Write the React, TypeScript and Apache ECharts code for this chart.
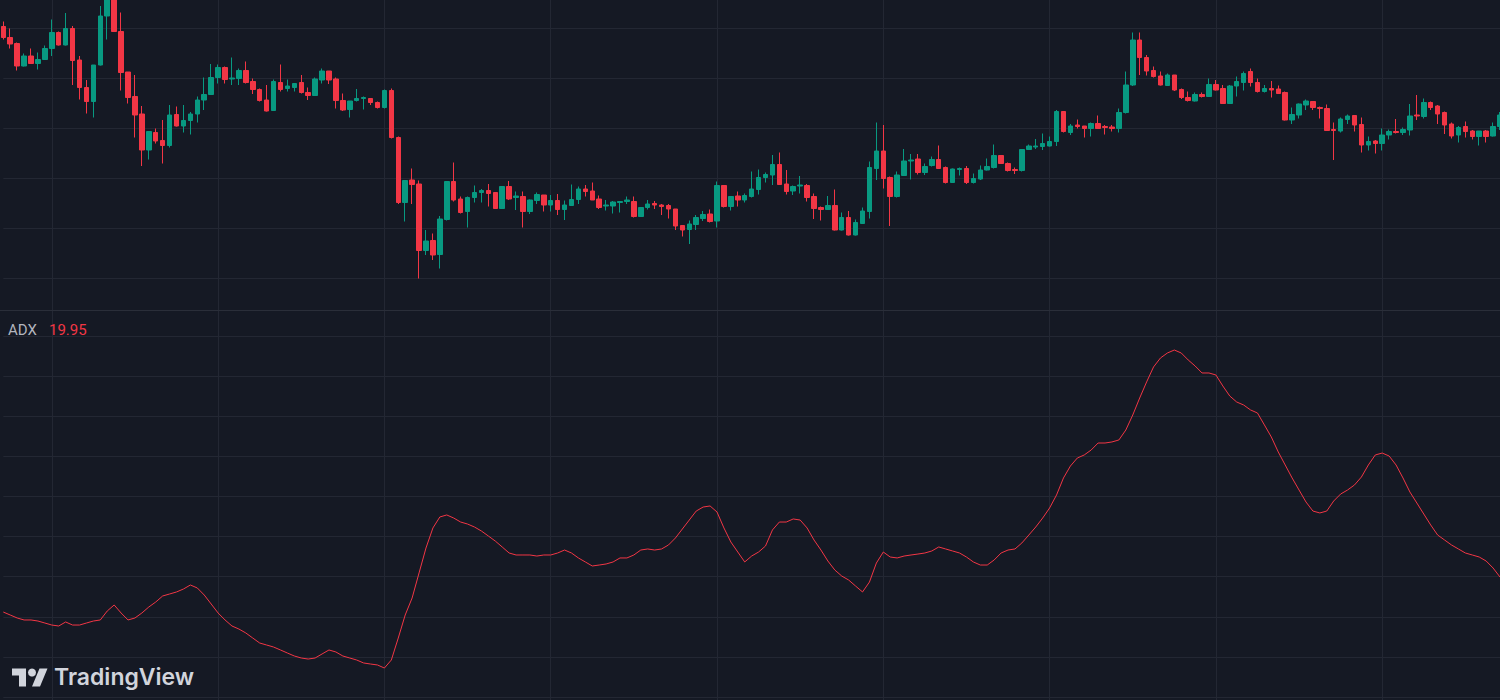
import React, { useEffect, useRef } from "react";
import * as echarts from "echarts";

// ---- Price pane (candles) ----
const OPEN = [
  150.3, 148.1, 146.9, 142.4, 144.4, 142.9, 143.7, 145.9, 149.1, 146.6,
  149.9, 143.6, 138.1, 135.3, 142.6, 152.4, 156.2, 149.3, 141.2, 136.3,
  132.8, 125.6, 129.1, 127.5, 126.5, 132.7, 130.4, 131.5, 132.8, 135.6,
  136.7, 140.1, 142.1, 139.8, 139.9, 141.5, 139.3, 137.7, 135.6, 133.5,
  139.1, 137.9, 138.1, 139.1, 137.1, 136.5, 139.6, 141.4, 139.8, 135.5,
  133.7, 135.5, 135.9, 135.9, 135.1, 134.1, 137.5, 128.1, 115.1, 119.6,
  118.8, 105.5, 107.5, 104.7, 111.7, 119.3, 115.8, 113.3, 116.1, 117.1,
  117.5, 117.1, 113.9, 118.3, 116.1, 116.3, 113.3, 115.5, 116.6, 114.6,
  115.5, 113.7, 114.5, 115.7, 117.8, 117.4, 115.8, 114.4, 114.4, 115.1,
  115.3, 115.3, 112.3, 114.1, 114.9, 114.6, 114.5, 113.8, 110.5, 109.7,
  110.7, 111.9, 112.8, 111.4, 118.5, 114.3, 116.4, 115.6, 116.3, 117.7,
  120.1, 120.6, 122.7, 118.8, 117.4, 118.4, 118.5, 116.3, 114.1, 113.7,
  114.5, 109.6, 112.1, 108.6, 110.9, 113.3, 121.9, 125.4, 120.1, 116.3,
  120.5, 123.4, 123.8, 121.1, 122.5, 123.7, 122.1, 119.1, 121.7, 121.9,
  119.1, 119.8, 121.6, 122.1, 124.5, 122.9, 121.7, 121.5, 125.7, 126.2,
  126.3, 126.4, 127.3, 133.3, 129.1, 130.6, 130.4, 129.9, 130.9, 130.3,
  130.2, 129.9, 133.1, 138.6, 147.6, 144.1, 141.5, 140.4, 138.5, 140.6,
  137.7, 136.1, 135.4, 136.7, 136.3, 138.7, 137.9, 134.9, 138.4, 139.1,
  141.3, 139.1, 137.3, 137.9, 137.8, 137.1, 131.6, 132.6, 134.6, 135.3,
  134.1, 133.9, 129.7, 129.4, 131.7, 132.5, 130.7, 126.6, 127.4, 126.9,
  128.6, 129.3, 129.1, 129.6, 132.6, 132.3, 135.1, 134.4, 133.1, 130.8,
  128.6, 130.3, 129.4, 128.3, 129.4, 128.4, 130.3,
];
const CLOSE = [
  148.1, 146.8, 142.4, 144.4, 142.9, 143.7, 145.9, 149.1, 146.6, 149.9,
  143.5, 138.1, 135.3, 142.6, 152.4, 156.2, 149.3, 141.1, 136.1, 132.6,
  125.6, 129.3, 127.4, 126.5, 132.6, 130.4, 131.5, 132.8, 135.6, 136.7,
  140.1, 142.1, 139.7, 140.0, 141.5, 139.1, 137.7, 135.5, 133.4, 139.3,
  137.7, 138.4, 138.9, 137.1, 136.5, 139.8, 141.4, 139.6, 135.5, 133.6,
  135.4, 135.9, 136.1, 135.1, 134.1, 137.5, 128.1, 115.1, 119.5, 118.7,
  105.5, 107.4, 104.6, 111.8, 119.3, 115.6, 113.1, 116.1, 117.1, 117.5,
  116.9, 113.9, 118.3, 115.8, 116.4, 113.3, 115.6, 116.7, 114.6, 115.5,
  113.7, 114.6, 115.7, 117.8, 117.3, 115.6, 114.1, 114.6, 115.2, 115.3,
  115.6, 112.3, 114.1, 114.8, 114.6, 114.3, 113.8, 110.4, 109.6, 110.8,
  112.1, 112.7, 111.3, 118.5, 114.3, 116.3, 115.6, 116.5, 117.8, 120.1,
  120.7, 122.7, 118.7, 117.3, 118.3, 118.6, 116.1, 113.9, 113.7, 114.5,
  109.6, 112.1, 108.6, 111.1, 113.4, 122.1, 125.4, 119.9, 116.3, 120.6,
  123.4, 123.6, 121.1, 122.3, 123.7, 121.9, 119.1, 121.8, 121.9, 119.1,
  119.9, 121.6, 122.3, 124.5, 122.9, 121.5, 121.5, 125.7, 126.4, 126.4,
  126.9, 127.3, 133.3, 129.3, 130.4, 130.3, 129.9, 130.9, 129.9, 130.1,
  129.9, 133.1, 138.6, 147.6, 144.1, 141.4, 140.3, 138.6, 140.6, 137.6,
  136.1, 135.5, 136.7, 136.3, 138.7, 137.6, 134.9, 138.4, 139.3, 140.9,
  139.1, 137.3, 137.9, 137.6, 136.9, 131.6, 132.7, 134.8, 135.4, 134.1,
  133.9, 129.5, 129.5, 131.8, 132.4, 130.6, 126.6, 127.3, 126.9, 128.6,
  129.3, 129.1, 129.7, 132.4, 132.4, 135.1, 134.1, 132.8, 130.6, 128.4,
  130.1, 129.3, 128.3, 129.4, 128.3, 130.3, 132.6,
];
const LOW = [
  147.7, 145.9, 141.5, 142.3, 142.8, 141.7, 143.6, 144.4, 146.5, 146.5,
  138.6, 135.7, 132.9, 132.1, 142.5, 147.7, 149.2, 137.5, 134.9, 128.1,
  122.4, 123.7, 126.9, 122.9, 126.1, 130.3, 129.1, 128.7, 131.1, 133.6,
  136.6, 138.9, 138.9, 138.6, 138.6, 138.9, 136.8, 135.3, 133.3, 133.4,
  137.3, 137.3, 137.3, 136.9, 135.6, 136.5, 138.9, 138.8, 133.9, 133.4,
  132.1, 135.3, 133.7, 134.6, 133.9, 133.9, 127.9, 114.8, 111.3, 114.8,
  99.9, 104.6, 103.6, 101.9, 111.5, 115.3, 112.9, 110.1, 115.1, 115.1,
  114.3, 113.8, 113.8, 115.6, 113.6, 110.1, 112.8, 114.8, 113.3, 113.3,
  112.6, 111.6, 114.4, 114.8, 116.3, 115.6, 113.8, 113.5, 112.9, 113.1,
  114.8, 112.1, 112.3, 113.7, 113.8, 112.6, 111.9, 109.6, 108.3, 106.8,
  109.6, 111.4, 111.1, 110.1, 114.1, 113.5, 114.3, 115.1, 116.1, 116.7,
  119.1, 118.6, 118.6, 116.7, 116.6, 116.9, 115.3, 111.8, 111.5, 113.6,
  109.5, 109.5, 108.5, 108.5, 110.8, 111.9, 119.6, 117.9, 110.4, 116.1,
  120.4, 119.7, 120.7, 120.6, 122.3, 121.8, 118.9, 119.1, 120.5, 118.8,
  118.9, 119.6, 121.5, 121.9, 122.8, 121.3, 120.8, 121.3, 125.6, 125.8,
  125.6, 126.3, 126.4, 129.1, 128.6, 129.9, 128.1, 128.3, 129.9, 128.7,
  129.3, 129.1, 132.9, 138.4, 140.6, 140.5, 140.1, 138.5, 138.4, 137.4,
  135.8, 135.3, 135.3, 136.1, 136.3, 137.5, 134.8, 134.8, 136.3, 137.5,
  138.3, 137.1, 137.1, 136.1, 136.8, 131.5, 130.8, 131.9, 133.6, 133.6,
  131.9, 129.4, 123.6, 129.1, 130.8, 129.3, 125.1, 125.5, 124.9, 125.5,
  127.7, 128.9, 128.6, 128.5, 131.6, 131.9, 133.6, 130.8, 128.8, 127.9,
  127.1, 128.1, 127.7, 126.5, 127.1, 128.3, 129.6,
];
const HIGH = [
  151.3, 149.9, 147.1, 144.9, 145.9, 145.1, 146.5, 151.7, 149.3, 153.0,
  150.4, 144.4, 139.6, 142.6, 154.4, 157.2, 157.2, 153.1, 141.2, 140.6,
  134.4, 129.3, 129.9, 131.6, 134.6, 134.3, 134.6, 133.2, 136.3, 140.1,
  142.8, 142.7, 142.3, 144.1, 141.9, 143.3, 139.9, 137.9, 138.6, 139.7,
  142.7, 139.7, 138.9, 140.6, 138.1, 140.1, 141.9, 141.4, 140.1, 136.9,
  135.4, 137.8, 136.3, 135.9, 135.3, 137.7, 137.9, 128.3, 119.5, 121.9,
  119.5, 109.6, 108.9, 112.4, 119.3, 123.1, 116.3, 116.3, 118.5, 117.8,
  118.8, 117.1, 118.3, 119.4, 117.3, 117.3, 115.7, 117.1, 116.6, 116.6,
  116.8, 115.5, 118.7, 118.3, 118.6, 119.1, 116.5, 115.6, 115.4, 115.4,
  116.3, 116.3, 114.1, 115.6, 115.4, 114.8, 114.8, 113.8, 110.6, 111.5,
  112.6, 113.4, 113.7, 119.3, 118.6, 116.3, 117.3, 116.9, 121.3, 121.7,
  121.1, 124.6, 125.1, 121.6, 118.5, 120.4, 118.8, 116.9, 114.3, 116.4,
  117.7, 113.1, 113.4, 111.7, 114.1, 123.3, 131.1, 130.6, 120.3, 121.3,
  125.8, 124.8, 124.8, 122.9, 124.3, 126.5, 122.3, 121.9, 122.1, 122.4,
  120.9, 122.5, 123.9, 126.7, 124.6, 123.1, 122.1, 125.8, 126.7, 127.8,
  128.9, 128.3, 133.6, 133.3, 130.8, 131.7, 130.4, 131.1, 132.5, 130.6,
  130.6, 133.9, 141.3, 149.1, 149.1, 144.6, 142.3, 141.3, 140.9, 140.6,
  137.9, 137.3, 137.1, 137.1, 139.9, 139.6, 138.6, 138.6, 140.3, 141.3,
  141.9, 139.9, 138.6, 139.4, 138.5, 137.3, 134.1, 134.9, 135.7, 135.3,
  134.3, 134.7, 131.1, 132.1, 132.7, 132.6, 132.1, 128.3, 127.6, 129.9,
  129.7, 131.8, 130.1, 134.8, 136.6, 135.9, 135.3, 134.6, 133.3, 131.1,
  130.4, 131.3, 129.6, 129.4, 129.6, 131.1, 133.2,
];

// ---- ADX pane ----
const ADX = [
  15.59, 15.22, 14.85, 14.6, 14.6, 14.47, 14.22, 13.97, 13.85, 14.35,
  13.97, 13.97, 14.22, 14.47, 14.6, 15.72, 16.47, 15.47, 14.6, 14.85,
  15.47, 16.22, 16.84, 17.59, 17.84, 18.09, 18.46, 18.96, 18.59, 17.71,
  16.59, 15.47, 14.6, 13.85, 13.47, 12.98, 12.35, 11.73, 11.48, 11.23,
  10.86, 10.48, 10.11, 9.86, 9.73, 9.86, 10.36, 10.86, 10.61, 10.11,
  9.86, 9.61, 9.24, 9.11, 8.99, 8.61, 9.61, 12.35, 15.22, 17.34,
  20.46, 23.57, 26.07, 27.44, 27.69, 27.31, 26.81, 26.56, 26.19, 25.69,
  25.07, 24.44, 23.7, 22.95, 22.7, 22.7, 22.7, 22.57, 22.7, 22.7,
  22.95, 23.32, 22.95, 22.33, 21.83, 21.33, 21.45, 21.58, 21.83, 22.33,
  22.33, 22.7, 23.32, 23.45, 23.32, 23.45, 23.95, 24.82, 25.94, 27.06,
  28.18, 28.68, 28.81, 28.06, 26.07, 24.32, 23.07, 21.83, 22.57, 23.07,
  23.82, 25.82, 26.81, 26.81, 27.19, 27.06, 26.07, 24.57, 23.32, 21.95,
  20.83, 20.08, 19.58, 18.83, 18.09, 19.33, 21.7, 23.07, 22.45, 22.33,
  22.57, 22.7, 22.82, 22.95, 23.2, 23.7, 23.45, 23.2, 22.95, 22.45,
  21.83, 21.45, 21.45, 22.08, 22.95, 23.32, 23.45, 24.2, 25.19, 26.19,
  27.31, 28.56, 30.18, 32.3, 33.79, 34.79, 35.17, 35.79, 36.66, 36.66,
  36.79, 37.04, 38.28, 40.15, 42.27, 44.27, 46.14, 47.26, 47.88, 48.25,
  47.88, 47.01, 46.26, 45.39, 45.39, 45.14, 43.77, 42.52, 41.77, 41.4,
  40.78, 40.4, 38.91, 37.41, 35.54, 33.92, 32.3, 30.8, 29.31, 28.18,
  27.94, 28.18, 29.43, 30.3, 30.8, 31.43, 32.42, 33.92, 35.17, 35.41,
  35.04, 33.92, 32.3, 30.55, 29.18, 27.81, 26.44, 25.19, 24.57, 23.95,
  23.45, 22.95, 22.7, 22.45, 21.95, 21.08, 19.95,
];

const CATEGORIES = OPEN.map((_, i) => String(i));
const PRICE_LINES = [100, 110, 120, 130, 140, 150];
const ADX_LINES = [5, 10, 15, 20, 25, 30, 35, 40, 45, 50];
const VGRID_FIRST = 7;
const VGRID_STEP = 24;

const BG = "#151924";
const GRID = "#232733";
const UP = "#089981";
const DOWN = "#F23645";
const LOGO = "#d1d4dc";

const TV_PATH = "M14 22H7V11H0V4h14v18zM28 22h-8l7.5-18h8L28 22z";
let logoRegistered = false;
function ensureLogo() {
  if (logoRegistered) return;
  echarts.graphic.registerShape("tvlogo", echarts.graphic.extendPath(TV_PATH, {}) as any);
  logoRegistered = true;
}

const hiddenAxis = {
  axisLine: { show: false },
  axisTick: { show: false },
  axisLabel: { show: false },
};

export default function App() {
  const ref = useRef<HTMLDivElement>(null);

  useEffect(() => {
    if (!ref.current) return;
    ensureLogo();
    const chart = echarts.init(ref.current, null, { renderer: "svg" });

    const candles = OPEN.map((o, i) => [o, CLOSE[i], LOW[i], HIGH[i]]);
    const last = ADX[ADX.length - 1];

    const gridLine = (values: number[]) => ({
      silent: true,
      symbol: ["none", "none"],
      z: 1,
      label: { show: false },
      emphasis: { disabled: true },
      lineStyle: { color: GRID, type: "solid", width: 1 },
      data: values.map((v) => ({ yAxis: v })),
    });

    const xAx = (gridIndex: number) => ({
      type: "category",
      gridIndex,
      data: CATEGORIES,
      boundaryGap: false,
      ...hiddenAxis,
      splitLine: {
        show: true,
        interval: (idx: number) => (idx - VGRID_FIRST) % VGRID_STEP === 0,
        lineStyle: { color: GRID, width: 1 },
      },
    });

    chart.setOption({
      animation: false,
      backgroundColor: BG,
      grid: [
        { left: 3.3, width: 1497.2, top: 0, height: 310 },
        { left: 3.3, width: 1497.2, top: 310, height: 390 },
      ],
      xAxis: [xAx(0), xAx(1)],
      yAxis: [
        { type: "value", gridIndex: 0, min: 93.6, max: 155.6, ...hiddenAxis, splitLine: { show: false } },
        { type: "value", gridIndex: 1, min: 4.625, max: 53.24, ...hiddenAxis, splitLine: { show: false } },
      ],
      series: [
        {
          type: "candlestick",
          xAxisIndex: 0,
          yAxisIndex: 0,
          data: candles,
          barWidth: 5,
          z: 3,
          itemStyle: {
            color: UP,
            color0: DOWN,
            borderColor: UP,
            borderColor0: DOWN,
            borderWidth: 1,
          },
          markLine: gridLine(PRICE_LINES),
        },
        {
          type: "line",
          name: "ADX",
          xAxisIndex: 1,
          yAxisIndex: 1,
          data: ADX,
          symbol: "none",
          z: 3,
          lineStyle: { color: DOWN, width: 1 },
          markLine: gridLine(ADX_LINES),
        },
      ],
      graphic: [
        {
          type: "line",
          shape: { x1: 0, y1: 310.5, x2: 1500, y2: 310.5 },
          style: { stroke: "#2a2e39", lineWidth: 1 },
          z: 10,
        },
        {
          type: "text",
          x: 8,
          y: 330,
          style: { text: "ADX", fill: "#b2b5be", font: "15px Roboto", textVerticalAlign: "middle" },
          z: 10,
        },
        {
          type: "text",
          x: 49,
          y: 330,
          style: { text: last.toFixed(2), fill: DOWN, font: "15px Roboto", textVerticalAlign: "middle" },
          z: 10,
        },
        {
          type: "tvlogo",
          x: 12,
          y: 664.5,
          style: { fill: LOGO },
          z: 10,
        },
        {
          type: "circle",
          shape: { cx: 32, cy: 672.5, r: 4 },
          style: { fill: LOGO },
          z: 10,
        },
        {
          type: "text",
          x: 54,
          y: 677,
          style: { text: "TradingView", fill: LOGO, font: "600 23px Inter", textVerticalAlign: "middle" },
          z: 10,
        },
      ],
    });

    return () => chart.dispose();
  }, []);

  return (
    <div
      ref={ref}
      style={{ position: "absolute", left: 0, top: 0, width: 1500, height: 700 }}
    />
  );
}
